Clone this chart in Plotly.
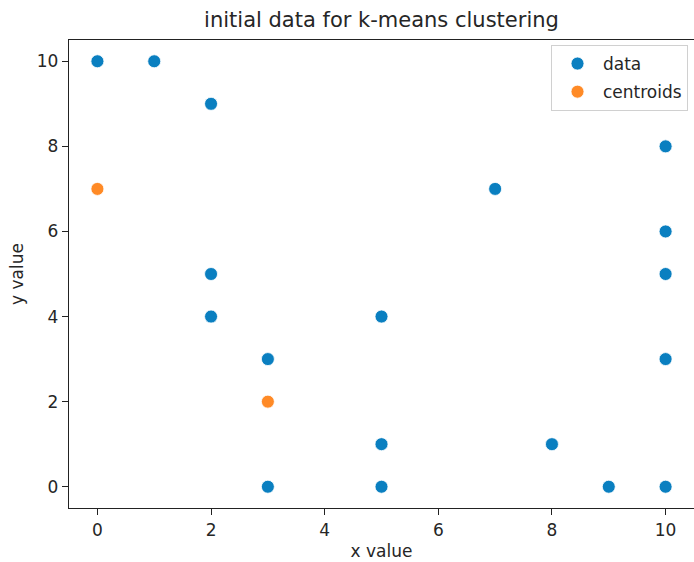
import plotly.graph_objects as go

data_x = [0, 1, 2, 2, 2, 3, 3, 5, 5, 5, 7, 8, 9, 10, 10, 10, 10, 10]
data_y = [10, 10, 9, 5, 4, 3, 0, 4, 1, 0, 7, 1, 0, 8, 6, 5, 3, 0]
cent_x = [0, 3]
cent_y = [7, 2]
tick_vals = [0, 2, 4, 6, 8, 10]

FONT = "DejaVu Sans"
TXT = "#262626"

fig = go.Figure()
fig.add_trace(go.Scatter(x=data_x, y=data_y, mode="markers", name="data", legendgroup="a",
                         marker=dict(color="#0a7fc0", size=13, line=dict(color="white", width=0.8))))
fig.add_trace(go.Scatter(x=cent_x, y=cent_y, mode="markers", name="centroids", legendgroup="b",
                         marker=dict(color="#ff8a26", size=13, line=dict(color="white", width=0.8))))

axis_common = dict(showline=True, linecolor="#222", linewidth=1.3, mirror=True,
                   ticks="outside", ticklen=6, tickcolor="#222", tickwidth=1.3,
                   showgrid=False, zeroline=False, tickvals=tick_vals, automargin=False,
                   tickfont=dict(family=FONT, size=17, color=TXT))
fig.update_xaxes(range=[-0.5, 10.5], title=dict(text="x value", standoff=6,
                 font=dict(family=FONT, size=17, color=TXT)), **axis_common)
fig.update_yaxes(range=[-0.5, 10.5], title=dict(text="y value", standoff=8,
                 font=dict(family=FONT, size=17, color=TXT)), **axis_common)

fig.update_layout(
    width=694, height=562,
    margin=dict(l=69, r=0, t=40, b=54, autoexpand=False),
    plot_bgcolor="white", paper_bgcolor="white",
    title=dict(text="initial data for k-means clustering", x=(69 + 694) / 2 / 694, xanchor="center",
               y=1 - 20/562, yanchor="middle",
               font=dict(family=FONT, size=21, color=TXT)),
    legend=dict(x=(688 - 69) / 625, y=(508 - 45) / 468, xanchor="right", yanchor="top",
                bordercolor="#d0d0d0", borderwidth=1, bgcolor="rgba(255,255,255,0.8)",
                tracegroupgap=3, traceorder="grouped", itemwidth=41,
                font=dict(family=FONT, size=17, color=TXT)),
    showlegend=True,
)
fig.write_html("out.html", post_script="document.body.style.margin='0';",
               config={"displayModeBar": False})
